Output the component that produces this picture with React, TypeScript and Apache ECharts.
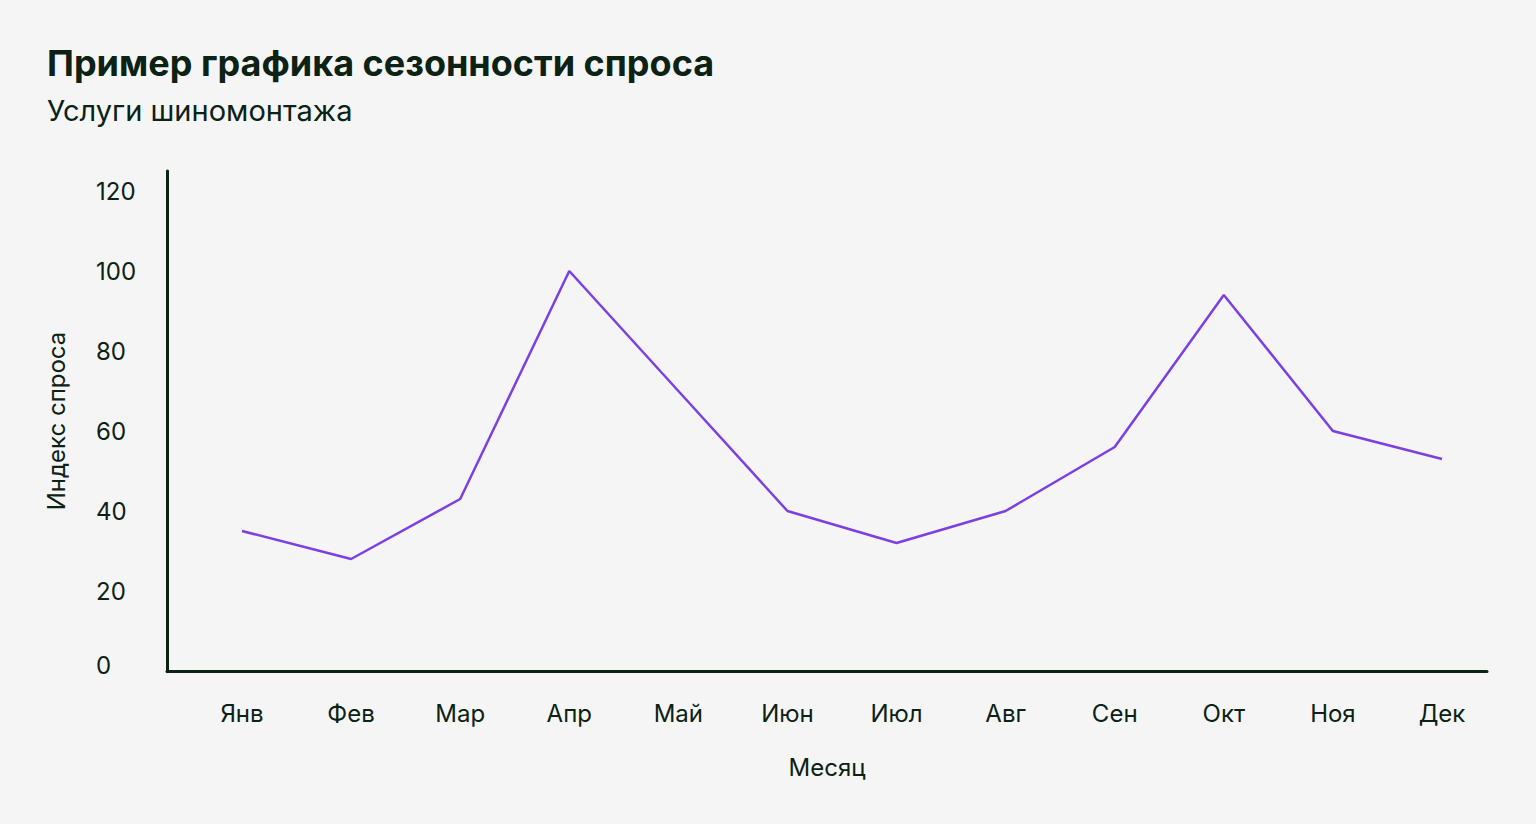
import React, { useRef, useEffect } from 'react';
import * as echarts from 'echarts';

const months = ['Янв', 'Фев', 'Мар', 'Апр', 'Май', 'Июн', 'Июл', 'Авг', 'Сен', 'Окт', 'Ноя', 'Дек'];
const demandIndex = [35, 28, 43, 100, 70, 40, 32, 40, 56, 94, 60, 53];
const monthIdx = months.map((_, i) => i);

const TEXT = '#0b2214';
const FONT = 'Inter, "Noto Sans", sans-serif';

const App = () => {
  const chartRef = useRef(null);

  useEffect(() => {
    document.body.style.margin = '0';
    const myChart = echarts.init(chartRef.current, null, { renderer: 'svg' });

    const option = {
      animation: false,
      backgroundColor: '#f5f5f5',
      textStyle: { fontFamily: FONT, color: TEXT },
      title: [
        {
          text: 'Пример графика сезонности спроса',
          left: 47,
          top: 45,
          padding: 0,
          textStyle: { fontFamily: FONT, fontSize: 36, fontWeight: 'bold', color: TEXT },
        },
        {
          text: 'Услуги шиномонтажа',
          left: 47,
          top: 96,
          padding: 0,
          textStyle: { fontFamily: FONT, fontSize: 29, fontWeight: 'normal', color: TEXT },
        },
      ],
      grid: { left: 167, right: 49, top: 171, bottom: 153 },
      xAxis: {
        type: 'value',
        min: -0.6875,
        max: 11.4125,
        name: 'Месяц',
        nameLocation: 'middle',
        nameGap: 84,
        nameTextStyle: { fontFamily: FONT, fontSize: 24, color: TEXT },
        axisLine: { show: true, onZero: false, lineStyle: { color: TEXT, width: 3 } },
        axisTick: { show: false },
        splitLine: { show: false },
        axisLabel: {
          customValues: monthIdx,
          formatter: (v) => months[Math.round(v)] ?? '',
          margin: 30,
          fontFamily: FONT,
          fontSize: 24,
          color: TEXT,
        },
      },
      yAxis: {
        type: 'value',
        min: 0,
        max: 125,
        interval: 20,
        name: 'Индекс спроса',
        nameLocation: 'middle',
        nameGap: 99,
        nameTextStyle: { fontFamily: FONT, fontSize: 24, color: TEXT },
        axisLine: { show: true, onZero: false, lineStyle: { color: TEXT, width: 3 } },
        axisTick: { show: false },
        splitLine: { show: false },
        axisLabel: {
          showMaxLabel: false,
          align: 'left',
          margin: 71,
          fontFamily: FONT,
          fontSize: 24,
          color: TEXT,
          formatter: (v) => (v === 0 ? '{z|0}' : String(v)),
          rich: {
            z: { fontFamily: FONT, fontSize: 24, color: TEXT, padding: [0, 0, 12, 0] },
          },
        },
      },
      series: [
        {
          type: 'line',
          data: demandIndex.map((v, i) => [monthIdx[i], v]),
          symbol: 'none',
          lineStyle: { color: '#7b3fe4', width: 2.5 },
        },
      ],
    };

    myChart.setOption(option);

    return () => {
      myChart.dispose();
    };
  }, []);

  return <div ref={chartRef} style={{ width: '1536px', height: '824px' }} />;
};

export default App;
